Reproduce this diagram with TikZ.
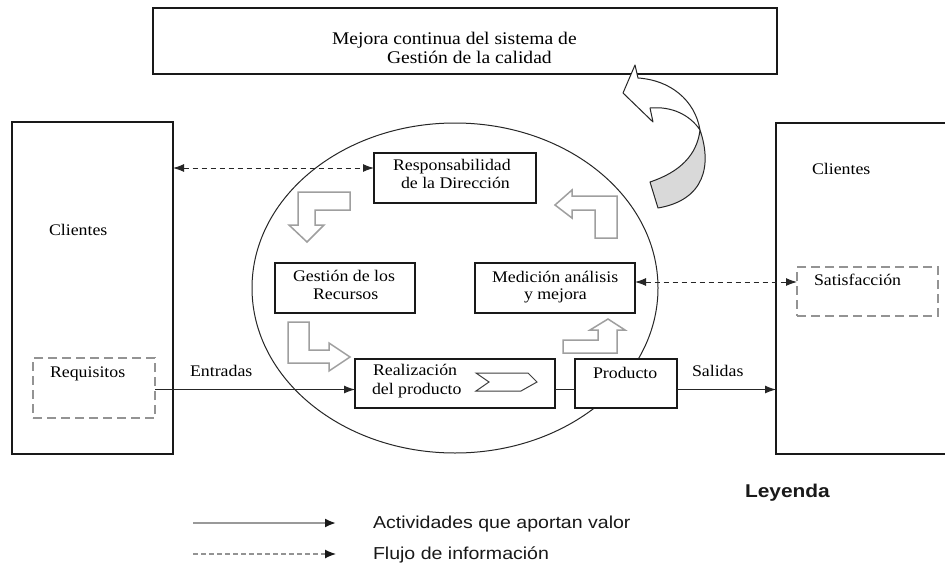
\documentclass[tikz,border=0pt]{standalone}
\usepackage{fontspec}
\setmainfont{Liberation Serif}[FakeStretch=1.1]
\newfontfamily\legfont{Liberation Sans}[FakeStretch=1.13]
\usetikzlibrary{arrows.meta,shapes.geometric}
\tikzset{
  box/.style={draw=black!90, line width=1.3pt, fill=white, inner sep=0pt, outer sep=0pt},
  dbox/.style={draw=gray!85, line width=1.5pt, dash pattern=on 9pt off 5pt, fill=white, inner sep=0pt, outer sep=0pt},
  lbl/.style={anchor=base west, inner sep=0pt, outer sep=0pt, font=\fontsize{16.2}{18}\selectfont, text=black},
  toplbl/.style={lbl, font=\fontsize{17.8}{19}\selectfont},
  leglbl/.style={anchor=base west, inner sep=0pt, outer sep=0pt, font=\legfont\fontsize{17.3}{19}\selectfont, text=black!90},
  tipA/.tip={Latex[length=11pt,width=8pt]},
  act/.style={draw=black!85, line width=1pt, -tipA},
  plain/.style={draw=black!85, line width=1pt},
  info/.style={draw=black!85, line width=1pt, dash pattern=on 5pt off 4pt, tipA-tipA},
  blk/.style={draw=gray!75, line width=1.5pt, fill=white, line join=miter},
  chev/.style={draw=black!75, line width=1pt, fill=white, line join=miter},
  curv/.style={draw=black!85, line width=1pt, line join=round},
  ring/.style={draw=black!85, line width=1pt, ellipse, inner sep=0pt, outer sep=0pt},
}
\begin{document}
\begin{tikzpicture}[x=1pt,y=-1pt]
\useasboundingbox (0,0) rectangle (945,565);
\fill[white] (0,0) rectangle (945,565);
\clip (0,0) rectangle (945,565);

% circle
\node[ring, minimum width=406pt, minimum height=330pt] (circ) at (455,288) {};

% boxes
\node[box, minimum width=624pt, minimum height=66pt] (top) at (465,41) {};
\node[box, minimum width=161pt, minimum height=332pt] (cliL) at (92.5,288) {};
\node[box, minimum width=184pt, minimum height=331pt] (cliR) at (868,288.5) {};
\node[dbox, minimum width=122pt, minimum height=60pt] (req) at (94,388) {};
\node[dbox, minimum width=141pt, minimum height=49pt] (sat) at (867.5,291.5) {};
\node[box, minimum width=162pt, minimum height=50pt] (resp) at (455,178) {};
\node[box, minimum width=140pt, minimum height=50pt] (gest) at (345,288) {};
\node[box, minimum width=160pt, minimum height=50pt] (med) at (555,288) {};
\node[box, minimum width=200pt, minimum height=49pt] (real) at (455,383.5) {};
\node[box, minimum width=102pt, minimum height=49pt] (prod) at (626,383.5) {};

% texts
\node[toplbl] (t1) at (332,44) {Mejora continua del sistema de};
\node[toplbl] (t2) at (387,63) {Gestión de la calidad};
\node[lbl] (tcl) at (49,235) {Clientes};
\node[lbl] (tcr) at (812,174) {Clientes};
\node[lbl] (tr1) at (393,170.5) {Responsabilidad};
\node[lbl] (tr2) at (401,188) {de la Dirección};
\node[lbl] (tg1) at (293,281.5) {Gestión de los};
\node[lbl] (tg2) at (313,299) {Recursos};
\node[lbl] (tm1) at (492,282) {Medición análisis};
\node[lbl] (tm2) at (524,299) {y mejora};
\node[lbl] (tre1) at (373,375.5) {Realización};
\node[lbl] (tre2) at (372,394) {del producto};
\node[lbl] (tp) at (593,378) {Producto};
\node[lbl] (ts) at (814,285.5) {Satisfacción};
\node[lbl] (tq) at (50,377.5) {Requisitos};
\node[lbl] (te) at (190,376.5) {Entradas};
\node[lbl] (tsa) at (692,376.5) {Salidas};

% connectors
\coordinate (rin) at ([yshift=10pt]resp.west);
\draw[info] (cliL.east |- rin) -- (rin);
\coordinate (min) at ([yshift=6pt]med.east);
\draw[info] (min) -- (sat.west |- min);
\coordinate (ein) at ([yshift=-6pt]real.west);
\draw[act] (req.east |- ein) -- (ein);
\draw[plain] (real.east |- ein) -- (prod.west |- ein);
\draw[act] (prod.east |- ein) -- (cliR.west |- ein);

% block arrows
\draw[blk] (350,192) -- (298,192) -- (298,225) -- (289,225) -- (307,242) -- (324,225) -- (315,225) -- (315,210) -- (350,210) -- cycle;
\draw[blk] (288,322) -- (288,363) -- (329,363) -- (329,371) -- (350,357) -- (329,343) -- (329,350) -- (309,350) -- (309,322) -- cycle;
\draw[blk] (563,340) -- (598,340) -- (598,330) -- (590,330) -- (608,319) -- (625,330) -- (617,330) -- (617,353) -- (563,353) -- cycle;
\draw[blk] (617,238) -- (617,196) -- (572,196) -- (572,190) -- (555,205) -- (572,218) -- (572,210) -- (595,210) -- (595,238) -- cycle;

% chevron
\draw[chev] (476,373) -- (528,373) -- (537,382) -- (521,391) -- (476,391) -- (489,382) -- cycle;

% curved arrow
\draw[curv, fill=white] (638,78) .. controls (670,80) and (695,100) .. (700,130)
  .. controls (690,115) and (672,106) .. (650,108) -- (653,122) -- (623,93) -- (635,65) -- cycle;
\draw[curv, fill=gray!30] (700,130) .. controls (712,165) and (705,200) .. (658,208)
  -- (650,182) .. controls (680,172) and (697,155) .. (700,130) -- cycle;

% legend
\node[leglbl, font=\legfont\bfseries\fontsize{18.5}{20}\selectfont] (ley) at (745,497) {Leyenda};
\coordinate (la1) at (193,523);
\coordinate (lb1) at (336,523);
\coordinate (la2) at (193,554);
\coordinate (lb2) at (336,554);
\draw[draw=gray!80, line width=2pt, -{Latex[length=11pt,width=9pt,color=black!90]}] (la1) -- (lb1);
\draw[draw=gray!85, line width=1.2pt, dash pattern=on 4.5pt off 3.5pt, -{Latex[length=11pt,width=9pt,color=black!90]}] (la2) -- (lb2);
\node[leglbl] (lg1) at (373,528) {Actividades que aportan valor};
\node[leglbl] (lg2) at (373,559.5) {Flujo de información};
\end{tikzpicture}
\end{document}
